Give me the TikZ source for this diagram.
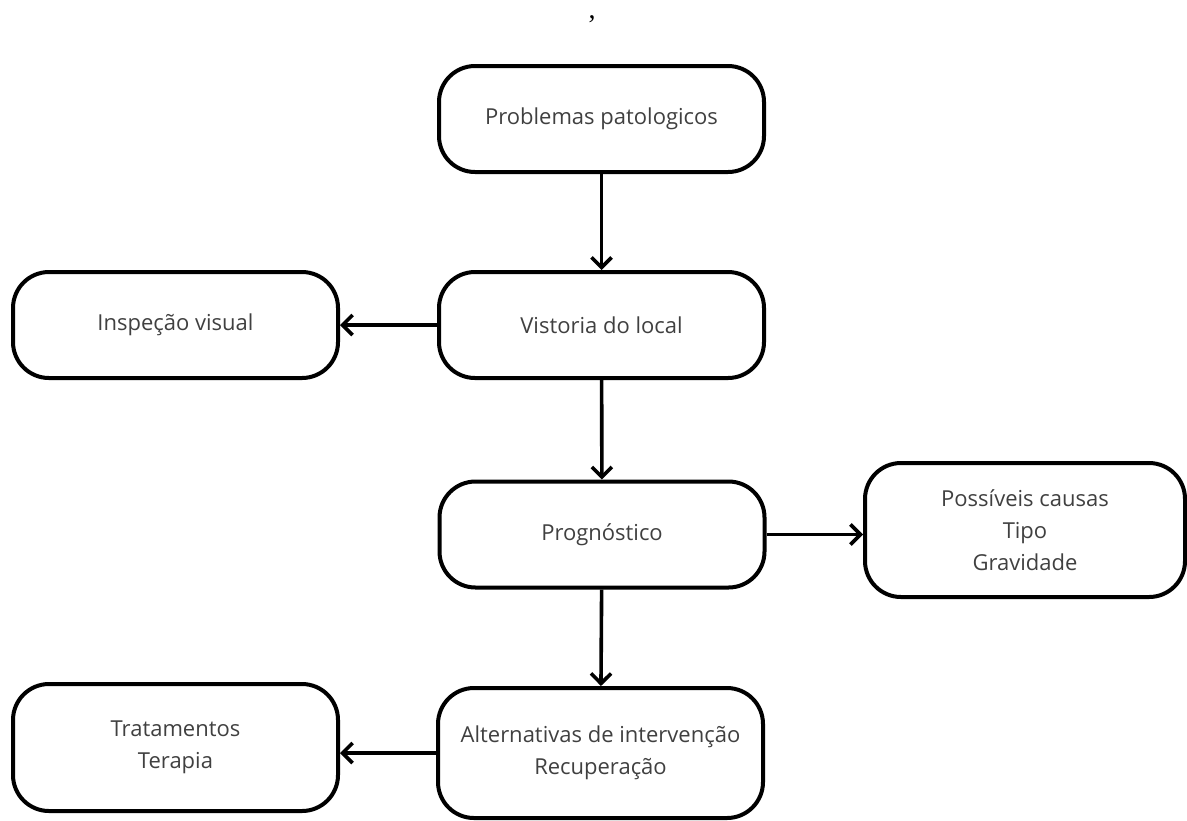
\documentclass[tikz,border=0pt]{standalone}
\usepackage{fontspec}
\setmainfont{Open Sans}
\newfontfamily\commafont{Liberation Serif}
\usepackage{tikz}
\usetikzlibrary{arrows.meta}

\definecolor{txtgray}{HTML}{404040}

\tikzset{
  etapa/.style={draw, line width=2pt, rounded corners=18pt, align=center,
    minimum width=162.5pt, minimum height=53pt, inner sep=0pt,
    font=\fontsize{11}{16}\selectfont, text=txtgray},
  seta/.style={line width=1.8pt, ->}
}

\begin{document}
\begin{tikzpicture}[x=0.5pt, y=-0.5pt, >={Straight Barb[length=5pt,width=10pt]}]
\useasboundingbox (0,0) rectangle (1187,820);

\node[anchor=base, inner sep=0pt, font=\commafont\fontsize{14}{15}\selectfont] (virg) at (592,18) {,};

\node[etapa] (prob) at (601.5,119) {Problemas patologicos};
\node[etapa] (vist) at (601.5,325) {Vistoria do local};
\node[etapa] (insp) at (175.5,325) {Inspeção visual};
\node[etapa] (prog) at (602,534.5) {Prognóstico};
\node[etapa, minimum width=160pt, minimum height=67pt] (caus) at (1025,530)
  {Possíveis causas\\Tipo\\Gravidade};
\node[etapa, minimum height=65pt] (alte) at (600.5,753)
  {Alternativas de intervenção\\Recuperação};
\node[etapa, minimum height=63.5pt] (trat) at (175.5,747.5)
  {Tratamentos\\Terapia};

\path[seta]
(prob) edge (vist)
(vist) edge (insp)
(vist) edge (prog)
(prog.east) edge (prog.east -| caus.west)
(prog) edge (alte)
(alte.west) edge (alte.west -| trat.east)
;
\end{tikzpicture}
\end{document}
